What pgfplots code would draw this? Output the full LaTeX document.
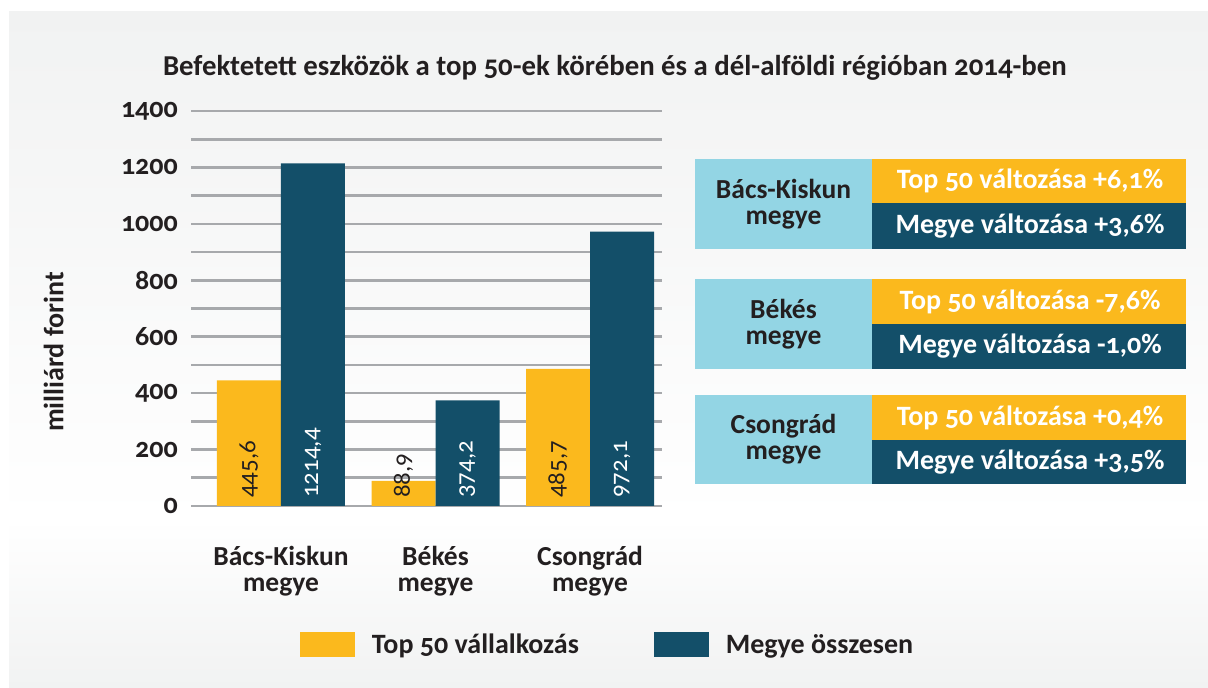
\documentclass[border=0pt]{standalone}
\usepackage{pgfplots}
\pgfplotsset{compat=1.18}
\usepackage{fontspec}
\setmainfont{Carlito}[Numbers=OldStyle]
\definecolor{cOr}{HTML}{FBB91D}
\definecolor{cTe}{HTML}{134F69}
\definecolor{cLb}{HTML}{93D5E4}
\definecolor{cGr}{HTML}{A7A9AC}
\definecolor{cTx}{HTML}{231F20}
\definecolor{cBg}{HTML}{F1F2F2}
\newcommand\fs[2]{\fontsize{#1}{#2}\selectfont}
\begin{document}
\begin{tikzpicture}
\path[use as bounding box] (0pt,0pt) rectangle (1208pt,688pt);
\shade[top color=cBg, bottom color=white] (9pt,168pt) rectangle (1208pt,676pt);
\shade[top color=white, bottom color=cBg] (9pt,0pt) rectangle (1208pt,168.5pt);
\begin{axis}[
  at={(191pt,182pt)}, anchor=south west,
  width=471pt, height=395pt, scale only axis,
  ybar=0pt, bar width=64pt,
  xmin=-0.5825, xmax=2.466,
  ymin=0, ymax=1400,
  clip=false,
  axis line style={draw=none},
  tick style={draw=none},
  major tick length=0pt,
  ytick={0,200,...,1400},
  yticklabels={0,200,400,600,800,1000,1200,1400},
  minor ytick={100,300,...,1300},
  ymajorgrids, yminorgrids,
  major grid style={cGr, line width=2.6pt},
  minor grid style={cGr, line width=2.6pt},
  yticklabel style={font=\bfseries\fs{28}{28}, text=cTx, anchor=east, inner sep=0pt, xshift=-13pt},
  xtick={0,1,2},
  xticklabels={{Bács-Kiskun\\megye},{Békés\\megye},{Csongrád\\megye}},
  xticklabel style={align=center, font=\bfseries\fs{27.5}{26}, text=cTx, anchor=north, inner sep=0pt, yshift=-40pt},
  ylabel={milliárd forint},
  every axis y label/.style={at={(axis description cs:-0.2915,0.39)}, rotate=90, anchor=center, font=\bfseries\fs{28}{28}, text=cTx},
  title={Befektetett eszközök a top 50-ek körében és a dél-alföldi régióban 2014-ben},
  title style={at={(axis description cs:0.900,1.093)}, anchor=center, font=\bfseries\fs{28.8}{28.8}, text=cTx},
  nodes near coords={\pgfmathprintnumber[fixed,fixed zerofill,precision=1,use comma,1000 sep={},assume math mode=true]{\pgfplotspointmeta}},
  visualization depends on={y \as \rawy},
  every node near coord/.append style={shift={(axis direction cs:0,-\rawy)}, yshift=8pt, rotate=90, anchor=west, inner sep=0pt, font=\fs{25}{25}},
  legend columns=2,
  legend style={at={(axis description cs:0.2314,-0.3506)}, anchor=west, draw=none, fill=none, inner sep=0pt, outer sep=0pt, font=\bfseries\fs{28}{28}, text=cTx,
    /tikz/every odd column/.append style={column sep=15pt},
    /tikz/every even column/.append style={column sep=73pt}},
  legend image code/.code={\path[#1] (0pt,-12.5pt) rectangle (55pt,12.5pt);},
]
\addplot[fill=cOr, draw=none, every node near coord/.append style={text=cTx}] coordinates {(0,445.6) (1,88.9) (2,485.7)};
\addplot[fill=cTe, draw=none, every node near coord/.append style={text=white}] coordinates {(0,1214.4) (1,374.2) (2,972.1)};
\legend{Top 50 vállalkozás, Megye összesen}
\end{axis}
% side boxes
\fill[cLb] (695pt,439pt) rectangle (872pt,529pt);
\fill[cOr] (872pt,485pt) rectangle (1186pt,529pt);
\fill[cTe] (872pt,439pt) rectangle (1186pt,485pt);
\node[align=center, font=\bfseries\fs{27.5}{26}, text=cTx] at (783.5pt,484pt) {Bács-Kiskun\\megye};
\node[font=\bfseries\fs{28}{28}, text=white] at (1030pt,507pt) {Top 50 változása +6,1\%};
\node[font=\bfseries\fs{28}{28}, text=white] at (1030pt,462pt) {Megye változása +3,6\%};
\fill[cLb] (695pt,319pt) rectangle (872pt,409pt);
\fill[cOr] (872pt,364pt) rectangle (1186pt,409pt);
\fill[cTe] (872pt,319pt) rectangle (1186pt,364pt);
\node[align=center, font=\bfseries\fs{27.5}{26}, text=cTx] at (783.5pt,364pt) {Békés\\megye};
\node[font=\bfseries\fs{28}{28}, text=white] at (1030pt,386.5pt) {Top 50 változása -7,6\%};
\node[font=\bfseries\fs{28}{28}, text=white] at (1030pt,341.5pt) {Megye változása -1,0\%};
\fill[cLb] (695pt,204pt) rectangle (872pt,293pt);
\fill[cOr] (872pt,248pt) rectangle (1186pt,293pt);
\fill[cTe] (872pt,204pt) rectangle (1186pt,248pt);
\node[align=center, font=\bfseries\fs{27.5}{26}, text=cTx] at (783.5pt,248.5pt) {Csongrád\\megye};
\node[font=\bfseries\fs{28}{28}, text=white] at (1030pt,270.5pt) {Top 50 változása +0,4\%};
\node[font=\bfseries\fs{28}{28}, text=white] at (1030pt,226pt) {Megye változása +3,5\%};
\end{tikzpicture}
\end{document}
